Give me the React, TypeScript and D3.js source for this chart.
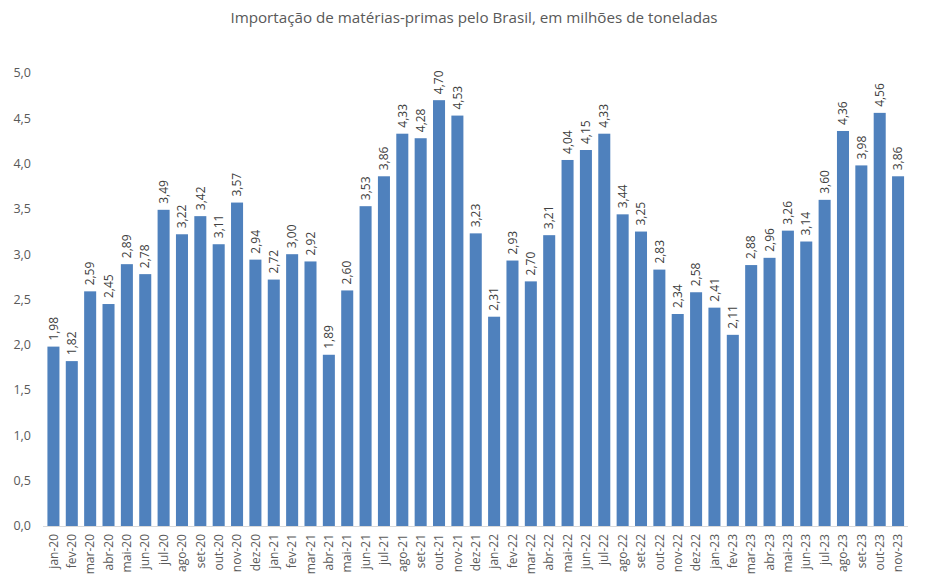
import React from "react";
import * as d3 from "d3";

const categories: string[] = [
  "jan-20","fev-20","mar-20","abr-20","mai-20","jun-20","jul-20","ago-20","set-20","out-20","nov-20","dez-20",
  "jan-21","fev-21","mar-21","abr-21","mai-21","jun-21","jul-21","ago-21","set-21","out-21","nov-21","dez-21",
  "jan-22","fev-22","mar-22","abr-22","mai-22","jun-22","jul-22","ago-22","set-22","out-22","nov-22","dez-22",
  "jan-23","fev-23","mar-23","abr-23","mai-23","jun-23","jul-23","ago-23","set-23","out-23","nov-23"
];
const values: number[] = [
  1.98,1.82,2.59,2.45,2.89,2.78,3.49,3.22,3.42,3.11,3.57,2.94,
  2.72,3.00,2.92,1.89,2.60,3.53,3.86,4.33,4.28,4.70,4.53,3.23,
  2.31,2.93,2.70,3.21,4.04,4.15,4.33,3.44,3.25,2.83,2.34,2.58,
  2.41,2.11,2.88,2.96,3.26,3.14,3.60,4.36,3.98,4.56,3.86
];
const yTicks: number[] = [0,0.5,1,1.5,2,2.5,3,3.5,4,4.5,5];
const title = "Importação de matérias-primas pelo Brasil, em milhões de toneladas";

const W = 946, H = 588;
const FONT = "'Open Sans', 'Noto Sans', sans-serif";
const fmt = (v: number, d: number) => v.toFixed(d).replace(".", ",");

export default function App() {
  const x = d3.scaleBand<string>().domain(categories).range([44.3, 907.2]).paddingInner(0.345).paddingOuter(0.17);
  const y = d3.scaleLinear().domain([0, 5]).range([526, 73]);
  return (
    <svg width={W} height={H} style={{ position: "absolute", left: 0, top: 0, background: "#fff" }}>
      <text x={474} y={23} textAnchor="middle" fontFamily={FONT} fontSize={15.2} fill="#595959">{title}</text>
      {yTicks.map((t) => (
        <text key={t} x={31} y={y(t)} dy="0.35em" textAnchor="end" fontFamily={FONT} fontSize={12.5} fill="#595959">{fmt(t, 1)}</text>
      ))}
      {values.map((v, i) => {
        const c = categories[i];
        const bx = x(c)!;
        return (
          <g key={c}>
            <rect x={bx} y={y(v)} width={x.bandwidth()} height={y(0) - y(v)} fill="#4f81bd" />
            <text transform={`translate(${bx + x.bandwidth() / 2},${y(v) - 6}) rotate(-90)`} dy="0.35em"
              fontFamily={FONT} fontSize={12} fill="#404040">{fmt(v, 2)}</text>
          </g>
        );
      })}
      <line x1={43} x2={908} y1={y(0) + 0.5} y2={y(0) + 0.5} stroke="#d9d9d9" strokeWidth={1} />
      {categories.map((c) => (
        <text key={c} transform={`translate(${x(c)! + x.bandwidth() / 2},${y(0) + 8}) rotate(-90)`} dy="0.35em"
          textAnchor="end" fontFamily={FONT} fontSize={12} fill="#595959">{c}</text>
      ))}
    </svg>
  );
}
